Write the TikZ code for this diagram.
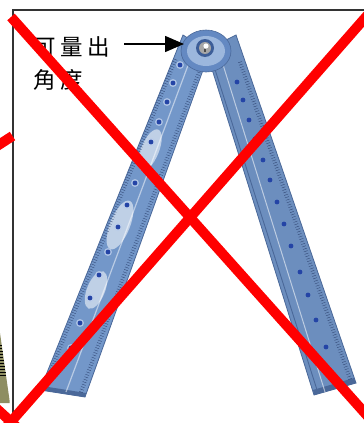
\documentclass[tikz,border=0pt]{standalone}
\usepackage{fontspec}
\newfontfamily\cjk{Noto Sans CJK TC}
\usetikzlibrary{arrows.meta,decorations.pathreplacing,calc}
\definecolor{armL}{HTML}{7397C9}
\definecolor{armR}{HTML}{6C8EBE}
\definecolor{armedge}{HTML}{4A6899}
\definecolor{tickc}{HTML}{2E4470}
\definecolor{dotc}{HTML}{2444A6}
\definecolor{halo}{HTML}{B9CCEA}
\definecolor{discrim}{HTML}{6489C2}
\definecolor{discin}{HTML}{9CB7DD}
\definecolor{discring}{HTML}{3D5E98}
\definecolor{oliveobj}{HTML}{8E8E62}
\definecolor{framec}{HTML}{333333}
\tikzset{
  armfillL/.style={fill=armL, draw=armedge, line width=0.8pt},
  armfillR/.style={fill=armR, draw=armedge, line width=0.8pt},
  tickline/.style={draw=tickc, line width=0.35pt, decorate,
    decoration={ticks, segment length=2.6pt, amplitude=2pt}},
  rdot/.style={fill=dotc},
  rhalo/.style={fill=halo, opacity=0.8},
  glare/.style={fill=white, opacity=0.55},
  cross/.style={draw=red, line width=10pt, line cap=butt},
  framel/.style={draw=framec, line width=1.1pt},
  lbl/.style={font=\cjk\fontsize{22.5pt}{22.5pt}\selectfont, inner sep=0pt, anchor=west},
  pointer/.style={draw=black, line width=1.6pt, -{Triangle[length=19pt,width=16pt]}}
}
\begin{document}
\begin{tikzpicture}[x=1pt,y=-1pt]
\useasboundingbox (0,0) rectangle (364,423);
\clip (0,0) rectangle (364,423);
\fill[white] (0,0) rectangle (364,423);

% olive object of the neighbouring picture
\fill[oliveobj] (0,333) -- (9.5,400) -- (9.5,403) -- (0,403) -- cycle;
\foreach \yy in {345,348,...,375}{
  \draw[black, line width=0.9pt] (0,\yy) -- ({(\yy-333)/67*9.5},\yy);
}

% frame
\draw[framel] (370,10) -- (13,10) -- (13,423);

% left arm
\path[armfillL] (40,390) -- (85,397) -- (209.5,52) -- (183,35) -- cycle;
\fill[armedge] (40,390) -- (85,397) -- (86,393) -- (42,386) -- cycle;
\draw[white, opacity=0.5, line width=1.2pt] (66,392) -- (196,44);
% glare on left arm
\fill[glare, rotate around={-22:(150,150)}] (150,150) ellipse [x radius=9pt, y radius=22pt];
\fill[glare, rotate around={-22:(120,225)}] (120,225) ellipse [x radius=10pt, y radius=26pt];
\fill[glare, rotate around={-22:(96,290)}] (96,290) ellipse [x radius=9pt, y radius=20pt];
\draw[tickline] (46,383) -- (176,58);
\draw[tickline] (81,392) -- (199,72);

% right arm
\path[armfillR] (314,395) -- (356,383) -- (236,35) -- (206,50) -- cycle;
\fill[armedge] (314,395) -- (356,383) -- (354,378) -- (313,390) -- cycle;
\draw[white, opacity=0.55, line width=1pt] (325,392) -- (220,55);
\draw[armedge, line width=0.9pt] (318,393) -- (212,60);
\draw[tickline] (350,379) -- (240,62);

% rivets, left arm
\foreach \p in {(180,65),(173,83),(167,102),(159,122),(151,142),(143,162),(135,183),(127,205),(118,227),(108,252),(99,275),(90,298),(80,323),(71,348)}{
  \fill[rhalo] \p circle (4pt);
  \fill[rdot] \p circle (2.4pt);
}
% rivets, right arm
\foreach \p in {(237,82),(243,100),(249,120),(255,139),(263,160),(270,180),(277,202),(284,224),(291,246),(300,272),(308,295),(316,320),(326,347)}{
  \fill[rdot] \p circle (2.4pt);
}

% pivot disc
\coordinate (pivot) at (206,51);
\fill[discrim, draw=armedge, line width=0.6pt] (pivot) ellipse [x radius=25pt, y radius=21pt];
\fill[discin] (pivot) ellipse [x radius=19pt, y radius=15pt];
\draw[discrim, line width=0.5pt, dash pattern=on 0.8pt off 1.4pt] (pivot) ellipse [x radius=22pt, y radius=18pt];
\fill[discring] (205,48) circle (9pt);
\fill[gray!70] (205,48) circle (6pt);
\fill[white] (206,46) circle (2.6pt);
\fill[black!70] (203.5,49) rectangle (205.5,52);

% label and arrow
\node[lbl] (l1) at (33,47) {可\hspace{4.5pt}量\hspace{4.5pt}出};
\node[lbl] (l2) at (33,80) {角\hspace{4.5pt}度};
\coordinate (as) at (124,44);
\coordinate (ae) at (184,44);
\draw[pointer] (as) -- (ae);

% red cross
\coordinate (c1a) at (11,17);
\coordinate (c1b) at (380,430);
\coordinate (c2a) at (372,10);
\coordinate (c2b) at (2,432);
\draw[cross] (c1a) -- (c1b);
\draw[cross] (c2a) -- (c2b);
% pieces of the neighbouring crosses
\coordinate (n1a) at (-20,157);
\coordinate (n1b) at (12.5,136);
\draw[cross] (n1a) -- (n1b);
\coordinate (n2a) at (-15,398);
\coordinate (n2b) at (20,430);
\draw[cross] (n2a) -- (n2b);
\end{tikzpicture}
\end{document}
